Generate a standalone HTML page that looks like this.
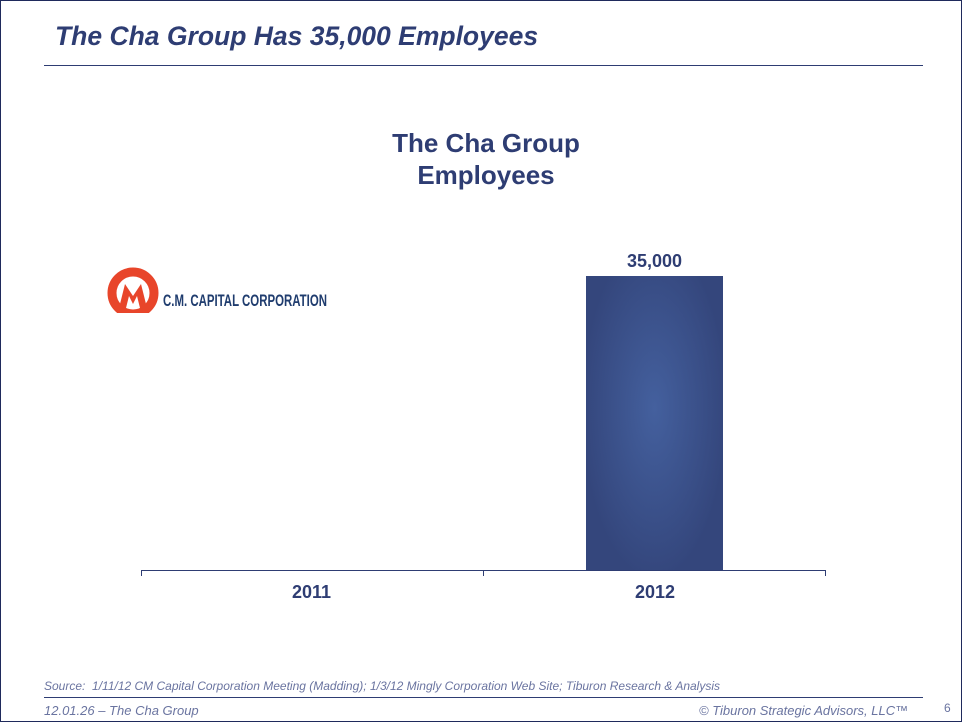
<!DOCTYPE html>
<html><head><meta charset="utf-8"><style>
body{margin:0;width:962px;height:722px;background:#fff;position:relative;overflow:hidden;font-family:"Liberation Sans",sans-serif}
.b{position:absolute;left:0;top:0;width:960px;height:720px;border:1px solid #1f2a5c}
.t{position:absolute;white-space:nowrap}
</style></head><body>
<div class="b"></div>
<div class="t" style="left:55px;top:21px;font-size:26.5px;font-weight:bold;font-style:italic;color:#2e3d73">The Cha Group Has 35,000 Employees</div>
<div style="position:absolute;left:44px;top:65px;width:879px;height:1px;background:#2e3d73"></div>
<div class="t" style="left:0;width:972px;text-align:center;top:127px;font-size:26px;font-weight:bold;color:#2e3d73;line-height:32px">The Cha Group<br>Employees</div>
<svg style="position:absolute;left:105px;top:264px" width="225" height="50">
<clipPath id="c"><rect x="0" y="0" width="225" height="49"/></clipPath>
<g clip-path="url(#c)">
<circle cx="28" cy="29" r="21" fill="none" stroke="#e8452a" stroke-width="9"/>
<path d="M14 44 L20 20 L28 32 L36 20 L42 44 L35 44 L32 32 L28 40 L24 32 L21 44Z" fill="#e8452a"/>
</g>
<text x="58" y="42" font-family="Liberation Sans" font-weight="bold" font-size="17" fill="#1f3c6e" textLength="164" lengthAdjust="spacingAndGlyphs">C.M. CAPITAL CORPORATION</text>
</svg>
<div class="t" style="left:586px;width:137px;text-align:center;top:251px;font-size:18px;font-weight:bold;color:#2e3d73">35,000</div>
<div style="position:absolute;left:586px;top:276px;width:137px;height:294px;background:radial-gradient(ellipse at 50% 45%,#44609e,#34467c 75%)"></div>
<div style="position:absolute;left:141px;top:570px;width:685px;height:1px;background:#2e3d73"></div>
<div style="position:absolute;left:141px;top:570px;width:1px;height:6px;background:#2e3d73"></div>
<div style="position:absolute;left:483px;top:570px;width:1px;height:6px;background:#2e3d73"></div>
<div style="position:absolute;left:825px;top:570px;width:1px;height:6px;background:#2e3d73"></div>
<div class="t" style="left:292px;top:582px;font-size:18px;font-weight:bold;color:#2e3d73">2011</div>
<div class="t" style="left:635px;top:582px;font-size:18px;font-weight:bold;color:#2e3d73">2012</div>
<div class="t" style="left:44px;top:679px;font-size:12px;font-style:italic;color:#6a74a0">Source:&nbsp; 1/11/12 CM Capital Corporation Meeting (Madding); 1/3/12 Mingly Corporation Web Site; Tiburon Research &amp; Analysis</div>
<div style="position:absolute;left:44px;top:697px;width:879px;height:1px;background:#2e3d73"></div>
<div class="t" style="left:44px;top:703px;font-size:13px;font-style:italic;color:#6a74a0">12.01.26 – The Cha Group</div>
<div class="t" style="left:699px;top:703px;font-size:13px;font-style:italic;color:#6a74a0">© Tiburon Strategic Advisors, LLC™</div>
<div class="t" style="left:944px;top:701px;font-size:12px;color:#6a74a0">6</div>
</body></html>
